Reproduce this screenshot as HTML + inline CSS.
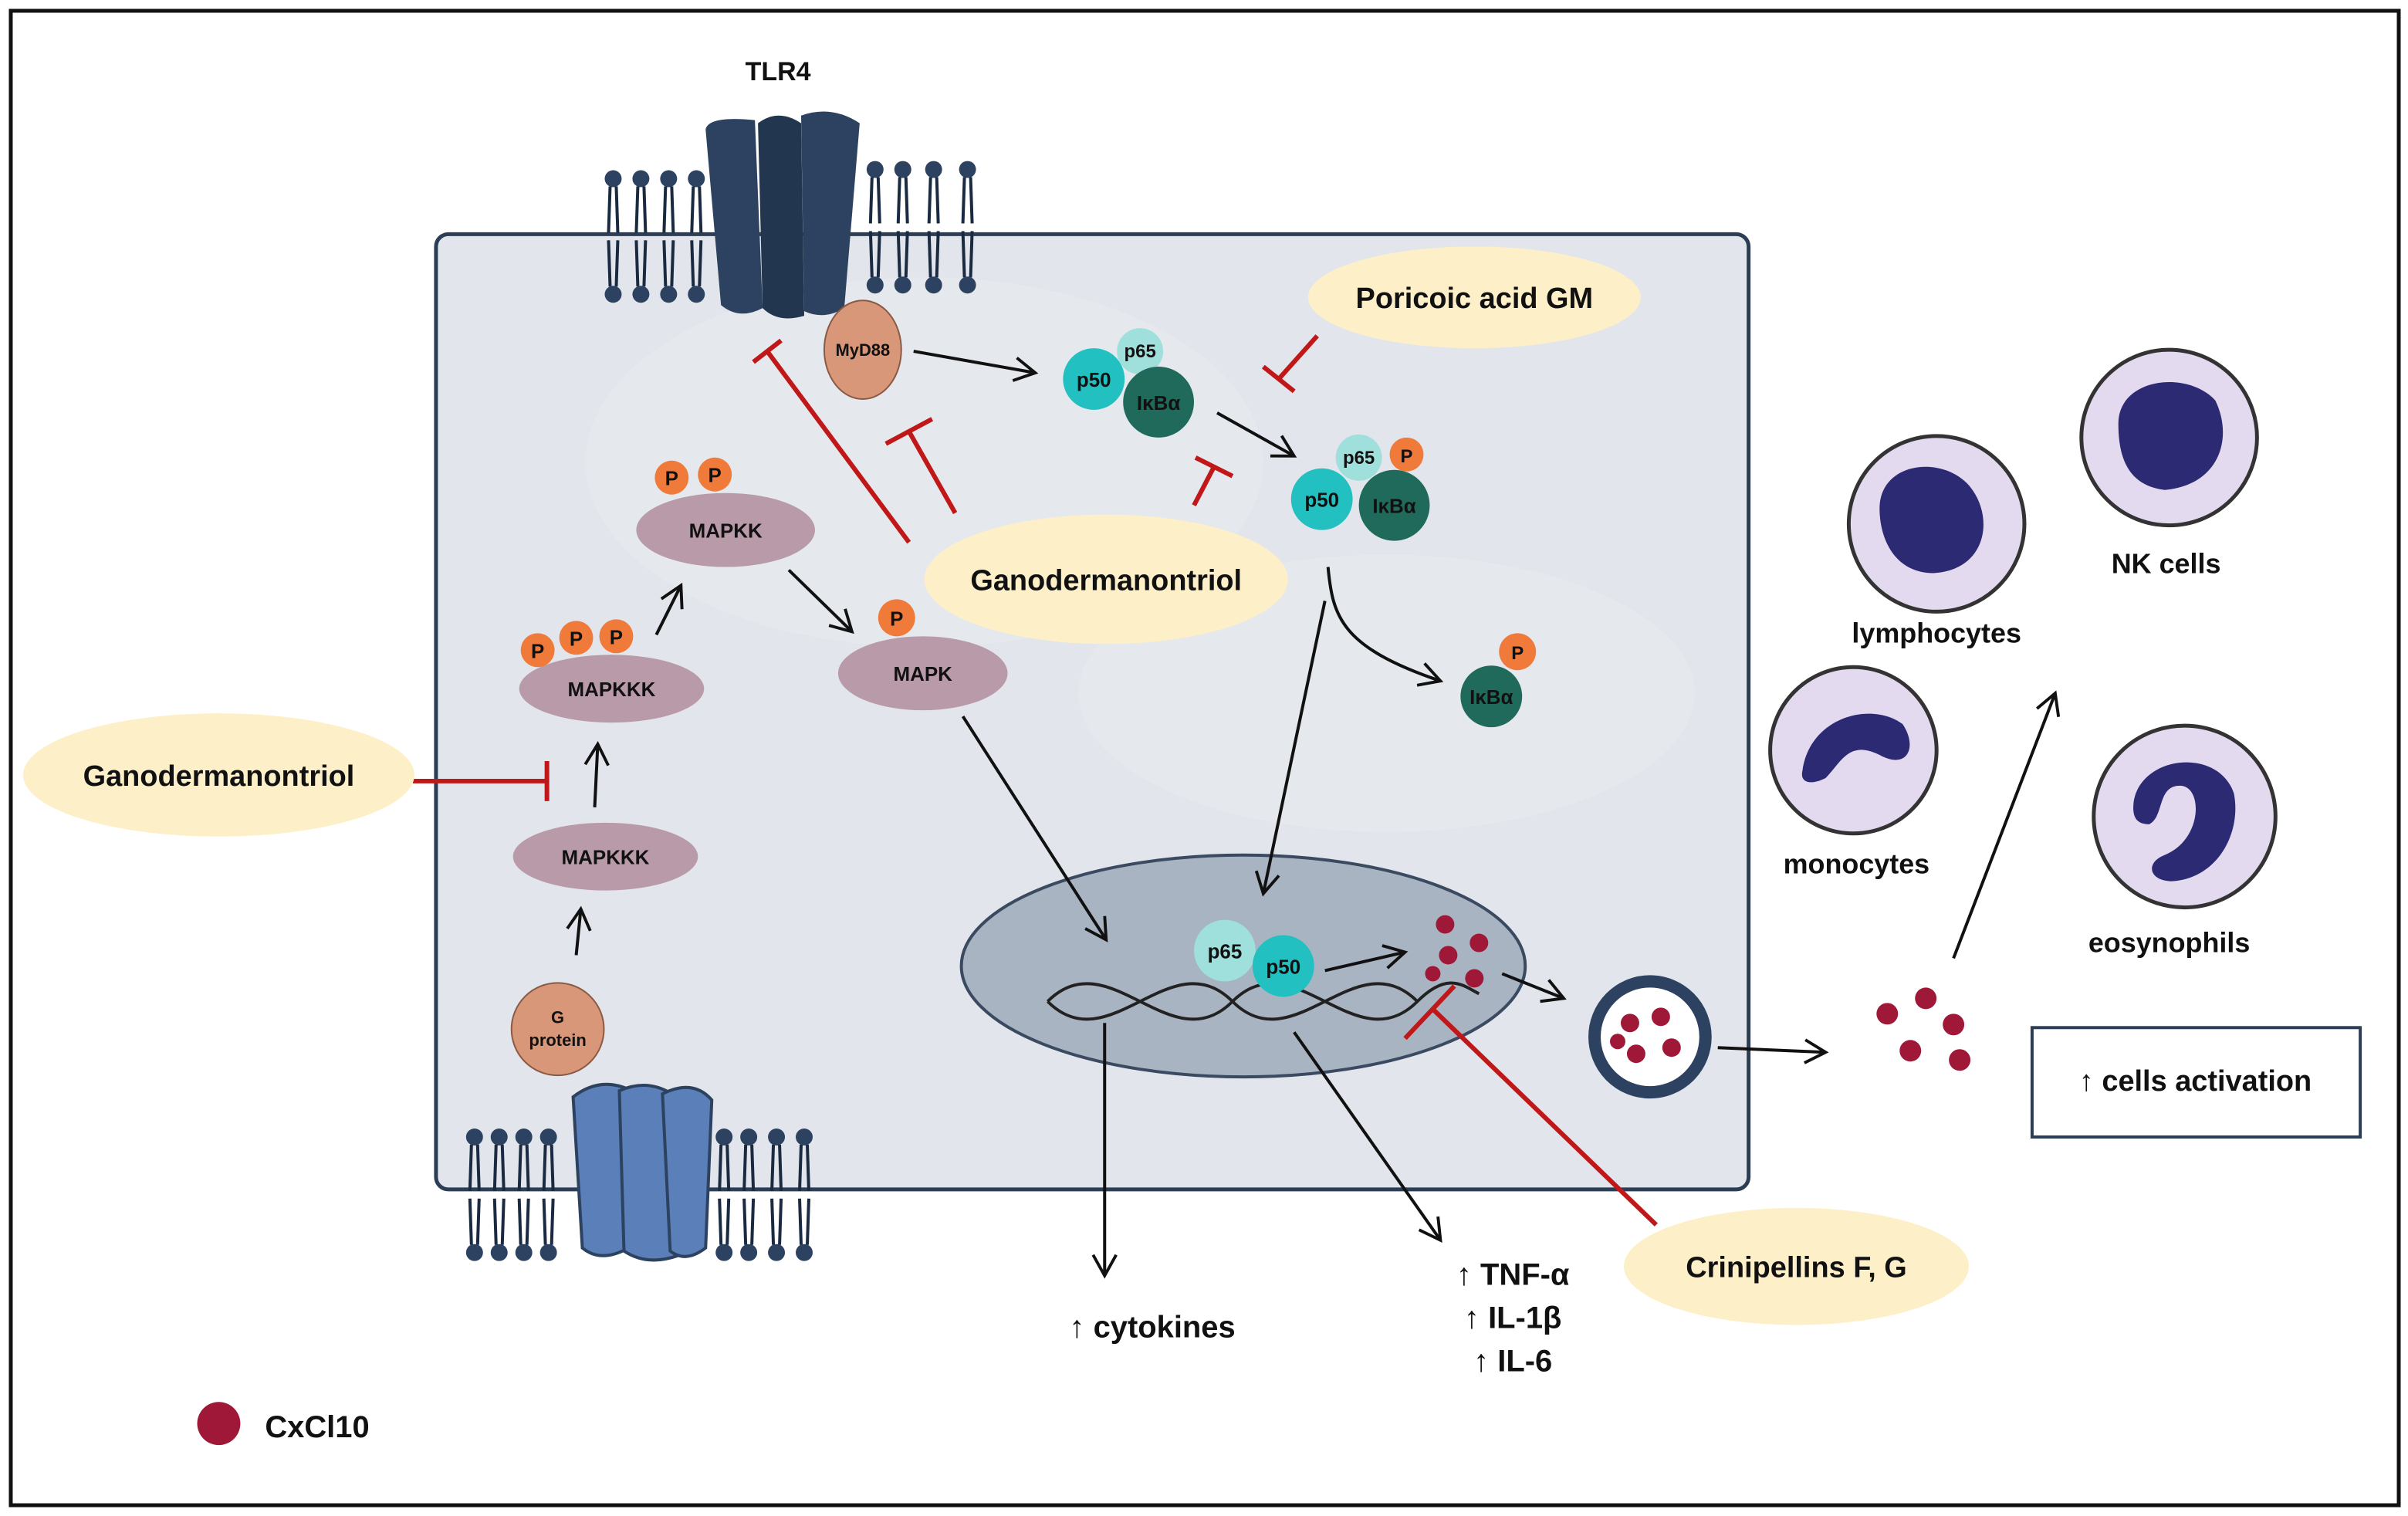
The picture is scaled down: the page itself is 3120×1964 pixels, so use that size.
<!DOCTYPE html>
<html><head><meta charset="utf-8"><style>
html,body{margin:0;padding:0;background:#fff}
svg{display:block}
text{font-family:"Liberation Sans",Arial,sans-serif;font-weight:bold;fill:#111}
</style></head><body>
<svg width="3120" height="1964" viewBox="0 0 1563 984" preserveAspectRatio="none" xmlns="http://www.w3.org/2000/svg">
<defs>
<marker id="ah" viewBox="0 0 12 12" refX="10" refY="6" markerWidth="18" markerHeight="18" orient="auto" markerUnits="userSpaceOnUse"><path d="M1,1 L10,6 L1,11" fill="none" stroke="#111" stroke-width="1.3"/></marker>
<g id="lip"><circle cx="0" cy="0" r="5.5" fill="#2c4260"/><path d="M-2,5 L-3,35 M2,5 L3,35" stroke="#1a2a40" stroke-width="2" fill="none"/><path d="M-3,40 L-2,70 M3,40 L2,70" stroke="#1a2a40" stroke-width="2" fill="none"/><circle cx="0" cy="75" r="5.5" fill="#2c4260"/></g>
</defs>
<rect x="0" y="0" width="1563" height="984" fill="#fff"/>
<rect x="7" y="7" width="1550" height="970" fill="none" stroke="#111" stroke-width="2.5"/>
<!-- cell -->
<rect x="283" y="152" width="852" height="620" rx="8" fill="#e2e5eb" stroke="#2c3e55" stroke-width="2.5"/>
<ellipse cx="600" cy="300" rx="220" ry="120" fill="#e8eaee" opacity="0.6"/>
<ellipse cx="900" cy="450" rx="200" ry="90" fill="#e8eaee" opacity="0.6"/>
<!-- top membrane -->
<g>
<use href="#lip" x="398" y="116"/><use href="#lip" x="416" y="116"/><use href="#lip" x="434" y="116"/><use href="#lip" x="452" y="116"/>
<use href="#lip" x="568" y="110"/><use href="#lip" x="586" y="110"/><use href="#lip" x="606" y="110"/><use href="#lip" x="628" y="110"/>
</g>
<path d="M458,84 Q460,75 490,78 L495,200 Q480,208 468,198 Z" fill="#2c4260"/>
<path d="M492,80 Q505,70 520,80 L522,205 Q505,210 495,200 Z" fill="#22364f"/>
<path d="M520,75 Q540,68 558,80 L548,200 Q535,208 522,202 Z" fill="#2c4260"/>
<text x="505" y="52" font-size="17" text-anchor="middle">TLR4</text>
<!-- bottom membrane -->
<g>
<use href="#lip" x="308" y="738"/><use href="#lip" x="324" y="738"/><use href="#lip" x="340" y="738"/><use href="#lip" x="356" y="738"/>
<use href="#lip" x="470" y="738"/><use href="#lip" x="486" y="738"/><use href="#lip" x="504" y="738"/><use href="#lip" x="522" y="738"/>
</g>
<path d="M372,712 Q390,698 410,708 L408,810 Q390,820 378,810 Z" fill="#5b7fb8" stroke="#2c4260" stroke-width="2"/>
<path d="M402,708 Q420,700 436,710 L440,815 Q420,822 405,812 Z" fill="#5b7fb8" stroke="#2c4260" stroke-width="2"/>
<path d="M430,710 Q450,700 462,714 L458,810 Q445,820 435,812 Z" fill="#5b7fb8" stroke="#2c4260" stroke-width="2"/>
<!-- nucleus -->
<ellipse cx="807" cy="627" rx="183" ry="72" fill="#a9b4c2" stroke="#3a4a60" stroke-width="2"/>
<path d="M680,650 C720,610 760,690 800,650 C840,610 880,690 920,650 C940,630 950,640 960,645" fill="none" stroke="#222" stroke-width="2"/>
<path d="M680,650 C720,690 760,610 800,650 C840,690 880,610 920,650" fill="none" stroke="#222" stroke-width="2"/>
<!-- proteins -->
<ellipse cx="560" cy="227" rx="25" ry="32" fill="#d9977a" stroke="#8a5a45"/><text x="560" y="231" font-size="11" text-anchor="middle">MyD88</text>
<g font-size="13">
<circle cx="740" cy="228" r="15" fill="#9fe0dc"/><text x="740" y="232" font-size="12" text-anchor="middle">p65</text>
<circle cx="710" cy="246" r="20" fill="#22c0c0"/><text x="710" y="251" text-anchor="middle">p50</text>
<circle cx="752" cy="261" r="23" fill="#1f6a5a"/><text x="752" y="266" text-anchor="middle">IκBα</text>
<circle cx="882" cy="297" r="15" fill="#9fe0dc"/><text x="882" y="301" font-size="12" text-anchor="middle">p65</text>
<circle cx="913" cy="295" r="11" fill="#f07a3a"/><text x="913" y="300" font-size="12" text-anchor="middle">P</text>
<circle cx="858" cy="324" r="20" fill="#22c0c0"/><text x="858" y="329" text-anchor="middle">p50</text>
<circle cx="905" cy="328" r="23" fill="#1f6a5a"/><text x="905" y="333" text-anchor="middle">IκBα</text>
<circle cx="985" cy="423" r="12" fill="#f07a3a"/><text x="985" y="428" font-size="12" text-anchor="middle">P</text>
<circle cx="968" cy="452" r="20" fill="#1f6a5a"/><text x="968" y="457" text-anchor="middle">IκBα</text>
<circle cx="795" cy="617" r="20" fill="#9fe0dc"/><text x="795" y="622" text-anchor="middle">p65</text>
<circle cx="833" cy="627" r="20" fill="#22c0c0"/><text x="833" y="632" text-anchor="middle">p50</text>
</g>
<g font-size="13">
<ellipse cx="471" cy="344" rx="58" ry="24" fill="#b89aa8"/><text x="471" y="349" text-anchor="middle">MAPKK</text>
<circle cx="436" cy="310" r="11" fill="#f07a3a"/><text x="436" y="315" text-anchor="middle">P</text>
<circle cx="464" cy="308" r="11" fill="#f07a3a"/><text x="464" y="313" text-anchor="middle">P</text>
<ellipse cx="397" cy="447" rx="60" ry="22" fill="#b89aa8"/><text x="397" y="452" text-anchor="middle">MAPKKK</text>
<circle cx="349" cy="422" r="11" fill="#f07a3a"/><text x="349" y="427" text-anchor="middle">P</text>
<circle cx="374" cy="414" r="11" fill="#f07a3a"/><text x="374" y="419" text-anchor="middle">P</text>
<circle cx="400" cy="413" r="11" fill="#f07a3a"/><text x="400" y="418" text-anchor="middle">P</text>
<ellipse cx="393" cy="556" rx="60" ry="22" fill="#b89aa8"/><text x="393" y="561" text-anchor="middle">MAPKKK</text>
<ellipse cx="599" cy="437" rx="55" ry="24" fill="#b89aa8"/><text x="599" y="442" text-anchor="middle">MAPK</text>
<circle cx="582" cy="401" r="12" fill="#f07a3a"/><text x="582" y="406" text-anchor="middle">P</text>
<circle cx="362" cy="668" r="30" fill="#d9977a" stroke="#8a5a45"/><text x="362" y="664" font-size="11" text-anchor="middle">G</text><text x="362" y="679" font-size="11" text-anchor="middle">protein</text>
</g>
<!-- black arrows -->
<g stroke="#111" stroke-width="2" fill="none" marker-end="url(#ah)">
<line x1="593" y1="228" x2="672" y2="242"/>
<line x1="790" y1="268" x2="840" y2="296"/>
<path d="M862,368 C865,400 870,420 935,442"/>
<line x1="860" y1="390" x2="820" y2="580"/>
<line x1="860" y1="630" x2="912" y2="618"/>
<line x1="975" y1="632" x2="1015" y2="648"/>
<line x1="374" y1="620" x2="377" y2="590"/>
<line x1="386" y1="524" x2="388" y2="483"/>
<line x1="426" y1="412" x2="442" y2="380"/>
<line x1="512" y1="370" x2="553" y2="410"/>
<line x1="625" y1="465" x2="718" y2="610"/>
<line x1="717" y1="664" x2="717" y2="828"/>
<line x1="840" y1="670" x2="935" y2="805"/>
<line x1="1115" y1="680" x2="1185" y2="683"/>
<line x1="1268" y1="622" x2="1334" y2="450"/>
</g>
<!-- red inhibitors -->
<g stroke="#c01818" stroke-width="3" fill="none">
<line x1="590" y1="352" x2="498" y2="228"/><line x1="489" y1="235" x2="507" y2="221"/>
<line x1="620" y1="333" x2="590" y2="280"/><line x1="575" y1="288" x2="605" y2="272"/>
<line x1="775" y1="328" x2="788" y2="303"/><line x1="776" y1="297" x2="800" y2="309"/>
<line x1="855" y1="218" x2="830" y2="246"/><line x1="820" y1="238" x2="840" y2="254"/>
<line x1="268" y1="507" x2="355" y2="507"/><line x1="355" y1="494" x2="355" y2="520"/>
<line x1="1075" y1="795" x2="930" y2="655"/><line x1="912" y1="674" x2="944" y2="640"/>
</g>
<!-- label ellipses -->
<g font-size="19">
<ellipse cx="957" cy="193" rx="108" ry="33" fill="#fdf0c8"/><text x="957" y="200" text-anchor="middle">Poricoic acid GM</text>
<ellipse cx="718" cy="376" rx="118" ry="42" fill="#fdf0c8"/><text x="718" y="383" text-anchor="middle">Ganodermanontriol</text>
<ellipse cx="142" cy="503" rx="127" ry="40" fill="#fdf0c8"/><text x="142" y="510" text-anchor="middle">Ganodermanontriol</text>
<ellipse cx="1166" cy="822" rx="112" ry="38" fill="#fdf0c8"/><text x="1166" y="829" text-anchor="middle">Crinipellins F, G</text>
</g>
<!-- CxCl10 dots -->
<g fill="#a01838">
<circle cx="938" cy="600" r="6"/><circle cx="960" cy="612" r="6"/><circle cx="940" cy="620" r="6"/><circle cx="957" cy="635" r="6"/><circle cx="930" cy="632" r="5"/>
<circle cx="1225" cy="658" r="7"/><circle cx="1250" cy="648" r="7"/><circle cx="1268" cy="665" r="7"/><circle cx="1240" cy="682" r="7"/><circle cx="1272" cy="688" r="7"/>
<circle cx="142" cy="924" r="14"/>
</g>
<circle cx="1071" cy="673" r="36" fill="#fff" stroke="#2c4260" stroke-width="8"/>
<g fill="#a01838"><circle cx="1058" cy="664" r="6"/><circle cx="1078" cy="660" r="6"/><circle cx="1062" cy="684" r="6"/><circle cx="1085" cy="680" r="6"/><circle cx="1050" cy="676" r="5"/></g>
<!-- immune cells -->
<g stroke="#333" stroke-width="2.5" fill="#e4daef">
<circle cx="1257" cy="340" r="57"/><circle cx="1408" cy="284" r="57"/><circle cx="1203" cy="487" r="54"/><circle cx="1418" cy="530" r="59"/>
</g>
<g fill="#2b2a72">
<path d="M1220,330 C1220,300 1260,295 1278,315 C1295,335 1290,370 1255,372 C1230,372 1220,350 1220,330Z"/>
<path d="M1375,275 C1375,245 1420,240 1438,260 C1450,285 1440,315 1405,318 C1380,315 1375,295 1375,275Z"/>
<path d="M1170,500 C1175,465 1215,455 1235,470 C1245,485 1238,500 1220,490 C1200,480 1195,495 1185,505 C1175,510 1168,508 1170,500Z"/>
<path d="M1385,520 C1390,490 1440,485 1450,515 C1455,540 1440,570 1410,572 C1395,572 1392,560 1405,555 C1430,545 1430,510 1415,510 C1400,510 1405,530 1395,535 C1385,535 1384,528 1385,520Z"/>
</g>
<g font-size="18">
<text x="1257" y="417" text-anchor="middle">lymphocytes</text>
<text x="1406" y="372" text-anchor="middle">NK cells</text>
<text x="1205" y="567" text-anchor="middle">monocytes</text>
<text x="1408" y="618" text-anchor="middle">eosynophils</text>
</g>
<rect x="1319" y="667" width="213" height="71" fill="#fff" stroke="#2c3e55" stroke-width="2"/>
<text x="1425" y="708" font-size="19" text-anchor="middle">↑ cells activation</text>
<g font-size="20">
<text x="748" y="868" text-anchor="middle">↑ cytokines</text>
<text x="982" y="834" text-anchor="middle">↑ TNF-α</text>
<text x="982" y="862" text-anchor="middle">↑ IL-1β</text>
<text x="982" y="890" text-anchor="middle">↑ IL-6</text>
<text x="172" y="933">CxCl10</text>
</g>
</svg>
</body></html>
